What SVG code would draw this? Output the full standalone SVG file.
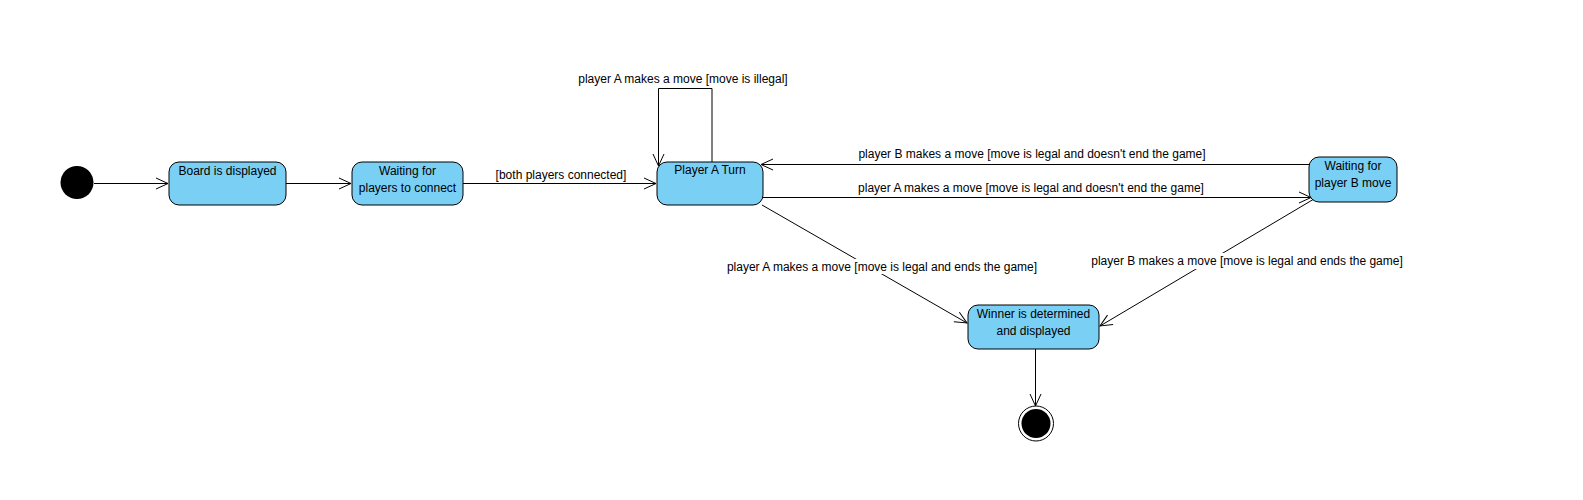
<svg xmlns="http://www.w3.org/2000/svg" width="1583" height="500" viewBox="0 0 1583 500">
<style>
.st{fill:#7acff5;stroke:#000;stroke-width:1}
.t{font-family:"Liberation Sans",Arial,sans-serif;font-size:12px;fill:#000;text-anchor:middle}
.c{fill:none;stroke:#000;stroke-width:1}
.bg{fill:#fff}
</style>
<defs>
<marker id="a" markerWidth="14" markerHeight="14" refX="13" refY="7" orient="auto" markerUnits="userSpaceOnUse">
<path d="M1,1.5 L13,7 L1,12.5" fill="none" stroke="#000" stroke-width="1"/>
</marker>
</defs>
<rect width="1583" height="500" fill="#fff"/>
<g id="connectors">
<line class="c" x1="94" y1="183.5" x2="168" y2="183.5" marker-end="url(#a)"/>
<line class="c" x1="286" y1="183.5" x2="351" y2="183.5" marker-end="url(#a)"/>
<line class="c" x1="463" y1="183.5" x2="656" y2="183.5" marker-end="url(#a)"/>
<text class="t" x="561" y="179">[both players connected]</text>
<polyline class="c" points="712,162 712,88.5 658.5,88.5 658.5,166" marker-end="url(#a)"/>
<text class="t" x="683" y="83">player A makes a move [move is illegal]</text>
<line class="c" x1="1309" y1="164.5" x2="761" y2="164.5" marker-end="url(#a)"/>
<text class="t" x="1032" y="158">player B makes a move [move is legal and doesn't end the game]</text>
<line class="c" x1="763" y1="197.5" x2="1311" y2="197.5" marker-end="url(#a)"/>
<text class="t" x="1031" y="192">player A makes a move [move is legal and doesn't end the game]</text>
<line class="c" x1="762" y1="205" x2="967" y2="323" marker-end="url(#a)"/>
<rect class="bg" x="724" y="259" width="316" height="15"/>
<text class="t" x="882" y="271">player A makes a move [move is legal and ends the game]</text>
<line class="c" x1="1314" y1="199" x2="1100" y2="326" marker-end="url(#a)"/>
<rect class="bg" x="1090" y="253" width="315" height="16"/>
<text class="t" x="1247" y="265">player B makes a move [move is legal and ends the game]</text>
<line class="c" x1="1035.5" y1="349" x2="1035.5" y2="406" marker-end="url(#a)"/>
</g>
<g id="initial"><circle cx="77" cy="182.5" r="16.5" fill="#000"/></g>
<g id="board"><rect class="st" x="169" y="162" width="117" height="43" rx="10"/><text class="t" x="227.5" y="175">Board is displayed</text></g>
<g id="waiting-players"><rect class="st" x="352" y="162" width="111" height="43" rx="10"/><text class="t" x="407.5" y="175">Waiting for</text><text class="t" x="407.5" y="192">players to connect</text></g>
<g id="player-a"><rect class="st" x="657" y="162" width="106" height="43" rx="10"/><text class="t" x="710" y="174">Player A Turn</text></g>
<g id="waiting-b"><rect class="st" x="1309" y="157" width="88" height="45" rx="10"/><text class="t" x="1353" y="170">Waiting for</text><text class="t" x="1353" y="187">player B move</text></g>
<g id="winner"><rect class="st" x="968" y="305" width="131" height="44" rx="10"/><text class="t" x="1033.5" y="318">Winner is determined</text><text class="t" x="1033.5" y="335">and displayed</text></g>
<g id="final"><circle cx="1036" cy="423.5" r="17.5" fill="#fff" stroke="#000" stroke-width="1"/><circle cx="1036" cy="423.5" r="14.5" fill="#000"/></g>
</svg>
